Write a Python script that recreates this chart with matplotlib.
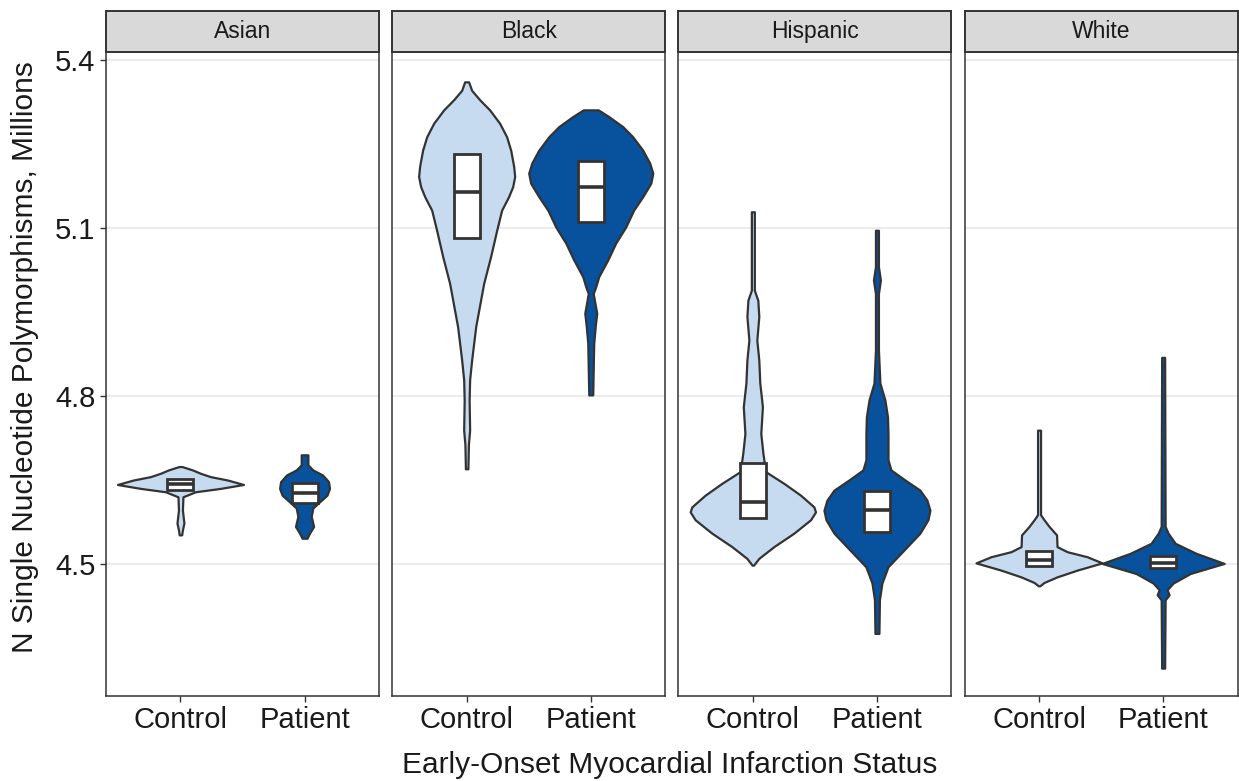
import matplotlib
matplotlib.use("Agg")
import matplotlib.pyplot as plt
import numpy as np

plt.rcParams["font.family"] = ["Liberation Sans", "DejaVu Sans"]

# facets and x categories
groups = ["Asian", "Black", "Hispanic", "White"]
statuses = ["Control", "Patient"]
y_ticks = [4.5, 4.8, 5.1, 5.4]

# violin outlines: value (millions) and half width (x units)
asian_control_y = [4.674, 4.668, 4.662, 4.656, 4.650, 4.642, 4.635, 4.629, 4.620, 4.596, 4.573, 4.561, 4.552]
asian_control_w = [0.012, 0.097, 0.161, 0.242, 0.379, 0.508, 0.322, 0.121, 0.020, 0.016, 0.028, 0.016, 0.010]
asian_patient_y = [4.695, 4.692, 4.677, 4.668, 4.659, 4.647, 4.635, 4.623, 4.611, 4.600, 4.585, 4.567, 4.555, 4.546]
asian_patient_w = [0.027, 0.027, 0.027, 0.067, 0.145, 0.193, 0.201, 0.181, 0.121, 0.067, 0.054, 0.073, 0.040, 0.020]

black_control_y = [5.361, 5.346, 5.329, 5.311, 5.287, 5.263, 5.239, 5.210, 5.192, 5.174, 5.156, 5.132,
                   5.096, 5.049, 5.001, 4.924, 4.864, 4.829, 4.793, 4.739, 4.713, 4.670]
black_control_w = [0.016, 0.040, 0.105, 0.185, 0.266, 0.322, 0.355, 0.379, 0.387, 0.371, 0.338, 0.282,
                   0.242, 0.193, 0.137, 0.073, 0.040, 0.024, 0.020, 0.024, 0.014, 0.010]
black_patient_y = [5.311, 5.299, 5.281, 5.263, 5.239, 5.216, 5.198, 5.180, 5.156, 5.132, 5.102, 5.073,
                   5.043, 5.013, 4.995, 4.983, 4.948, 4.924, 4.894, 4.802]
black_patient_w = [0.060, 0.145, 0.258, 0.338, 0.419, 0.475, 0.500, 0.484, 0.419, 0.346, 0.282, 0.201,
                   0.137, 0.064, 0.040, 0.020, 0.048, 0.036, 0.024, 0.016]

hispanic_control_y = [5.129, 4.989, 4.971, 4.942, 4.900, 4.864, 4.823, 4.781, 4.733, 4.698, 4.665, 4.644,
                      4.623, 4.602, 4.593, 4.579, 4.555, 4.531, 4.510, 4.498]
hispanic_control_w = [0.012, 0.012, 0.040, 0.048, 0.032, 0.048, 0.056, 0.077, 0.064, 0.081, 0.102, 0.250,
                      0.384, 0.492, 0.505, 0.465, 0.330, 0.169, 0.048, 0.006]
hispanic_patient_y = [5.096, 5.031, 5.007, 4.983, 4.882, 4.823, 4.793, 4.763, 4.733, 4.686, 4.668, 4.650,
                      4.632, 4.614, 4.596, 4.579, 4.555, 4.525, 4.495, 4.466, 4.436, 4.376]
hispanic_patient_w = [0.012, 0.012, 0.028, 0.012, 0.012, 0.024, 0.064, 0.085, 0.089, 0.089, 0.113, 0.226,
                      0.346, 0.403, 0.427, 0.411, 0.346, 0.218, 0.089, 0.040, 0.020, 0.016]

white_control_y = [4.739, 4.588, 4.579, 4.567, 4.552, 4.531, 4.522, 4.513, 4.502, 4.489, 4.477, 4.467, 4.461]
white_control_w = [0.012, 0.012, 0.040, 0.081, 0.141, 0.145, 0.226, 0.387, 0.508, 0.306, 0.145, 0.040, 0.006]
white_patient_y = [4.869, 4.567, 4.555, 4.537, 4.519, 4.501, 4.483, 4.466, 4.454, 4.445, 4.436, 4.314]
white_patient_w = [0.012, 0.016, 0.040, 0.097, 0.266, 0.492, 0.218, 0.081, 0.032, 0.048, 0.016, 0.012]

# box stats per facet (control, patient): lower quartile, median, upper quartile
box_q1 = {"Asian": [4.633, 4.609], "Black": [5.083, 5.111], "Hispanic": [4.583, 4.558], "White": [4.497, 4.493]}
box_med = {"Asian": [4.642, 4.626], "Black": [5.165, 5.173], "Hispanic": [4.611, 4.596], "White": [4.508, 4.501]}
box_q3 = {"Asian": [4.651, 4.644], "Black": [5.233, 5.220], "Hispanic": [4.680, 4.631], "White": [4.524, 4.514]}

profiles = {
    "Asian": [(asian_control_y, asian_control_w), (asian_patient_y, asian_patient_w)],
    "Black": [(black_control_y, black_control_w), (black_patient_y, black_patient_w)],
    "Hispanic": [(hispanic_control_y, hispanic_control_w), (hispanic_patient_y, hispanic_patient_w)],
    "White": [(white_control_y, white_control_w), (white_patient_y, white_patient_w)],
}

fills = ["#C6DBEF", "#08519C"]
dark = "#333333"

W, H = 1239, 781
fig = plt.figure(figsize=(W / 100, H / 100), dpi=100)

# panel geometry in pixels
left0, step, pw = 106, 286.2, 273
top_px, bot_px, strip_top = 52, 695.7, 11

for i, g in enumerate(groups):
    x0 = left0 + i * step
    ax = fig.add_axes([x0 / W, 1 - bot_px / H, pw / W, (bot_px - top_px) / H])
    ax.set_xlim(0.4, 2.6)
    ax.set_ylim(4.2648, 5.4143)
    for yt in y_ticks:
        ax.axhline(yt, color="#EBEBEB", lw=1.3, zorder=0)

    for j, (yy, ww) in enumerate(profiles[g]):
        cx = j + 1
        yy = np.array(yy)
        ww = np.array(ww)
        ax.fill_betweenx(yy, cx - ww, cx + ww, facecolor=fills[j], edgecolor=dark,
                         linewidth=1.6, zorder=2)
        # box on top of the violin
        q1, med, q3 = box_q1[g][j], box_med[g][j], box_q3[g][j]
        bw = 0.105
        ax.add_patch(plt.Rectangle((cx - bw, q1), 2 * bw, q3 - q1, facecolor="white",
                                   edgecolor=dark, linewidth=2.0, zorder=3))
        ax.plot([cx - bw, cx + bw], [med, med], color=dark, lw=2.6, zorder=4,
                solid_capstyle="butt")

    ax.set_xticks([1, 2])
    ax.set_xticklabels(statuses, fontsize=21, color="#1a1a1a")
    ax.set_yticks(y_ticks)
    if i == 0:
        ax.set_yticklabels(["4.5", "4.8", "5.1", "5.4"], fontsize=21, color="#1a1a1a")
    else:
        ax.tick_params(axis="y", left=False, labelleft=False)
    ax.tick_params(length=4.5, width=1.0, color=dark, pad=3)
    for s in ax.spines.values():
        s.set_color(dark)
        s.set_linewidth(1.1)

    # strip header
    sax = fig.add_axes([x0 / W, 1 - top_px / H, pw / W, (top_px - strip_top) / H])
    sax.set_xticks([])
    sax.set_yticks([])
    sax.set_facecolor("#D9D9D9")
    for s in sax.spines.values():
        s.set_color(dark)
        s.set_linewidth(1.4)
    sax.text(0.5, 0.5, g, ha="center", va="center", fontsize=16.5, color="#1a1a1a",
             transform=sax.transAxes)

fig.text(670 / W, 1 - 765 / H, "Early-Onset Myocardial Infarction Status", ha="center",
         va="center", fontsize=21.5, color="#1a1a1a")
fig.text(25 / W, 1 - 357 / H, "N Single Nucleotide Polymorphisms, Millions", ha="center",
         va="center", rotation=90, fontsize=21.5, color="#1a1a1a")

fig.savefig("out.png", dpi=100)
